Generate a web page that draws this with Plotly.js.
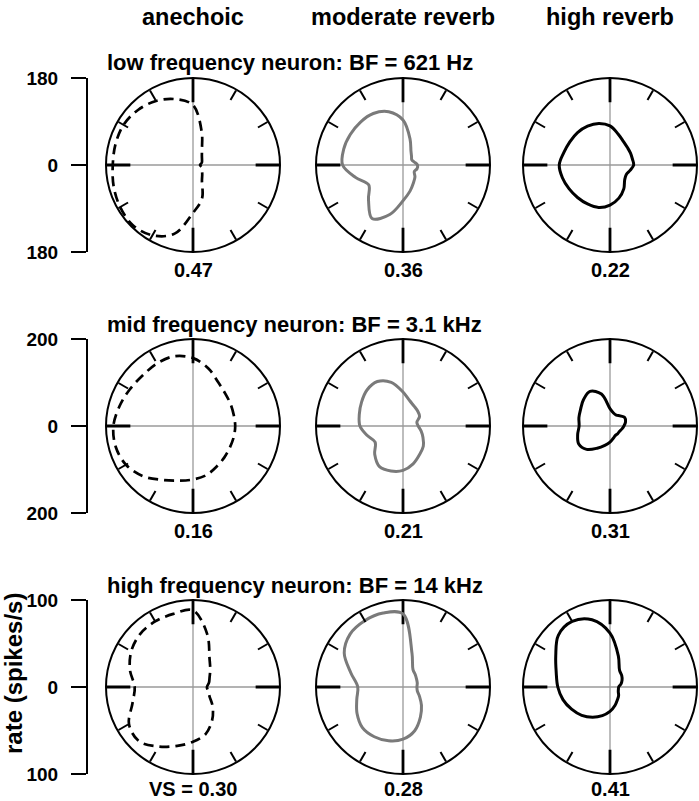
<!DOCTYPE html>
<html>
<head>
<meta charset="utf-8">
<script src="https://cdn.plot.ly/plotly-3.0.1.min.js"></script>
<style>html,body{margin:0;padding:0;background:#fff;}#chart{width:699px;height:801px;}</style>
</head>
<body>
<div id="chart"></div>
<script>
// ---------------- data ----------------
var columns = ["anechoic", "moderate reverb", "high reverb"];
var rowTitles = ["low frequency neuron: BF = 621 Hz", "mid frequency neuron: BF = 3.1 kHz", "high frequency neuron: BF = 14 kHz"];
var rowMax = [180, 200, 100];
var tickLabels = [["180", "0", "180"], ["200", "0", "200"], ["100", "0", "100"]];
var vsLabels = [["0.47", "0.36", "0.22"], ["0.16", "0.21", "0.31"], ["VS = 0.30", "0.28", "0.41"]];
var yTitle = "rate (spikes/s)";

var theta = [0, 15, 30, 45, 60, 75, 90, 105, 120, 135, 150, 165, 180, 195, 210, 225, 240, 255, 270, 285, 300, 315, 330, 345];

// row 1 : low frequency neuron (spikes/s)
var low_anechoic = [14.5, 19, 21.5, 26, 37, 70, 124, 141, 153, 161, 166, 166, 166, 170, 174, 176, 168, 147, 99, 72, 37, 27, 21.5, 19];
var low_moderate = [30, 24, 21, 25, 33, 56, 93, 114, 123, 125, 126, 127, 125, 101, 82, 101, 128, 106, 74, 56, 43, 35, 27, 30];
var low_high     = [49, 48, 49, 51, 56, 66, 81, 89, 93, 95, 96, 99, 105, 102, 98, 95, 93, 91, 83, 71, 57, 43, 39, 43];
// row 2 : mid frequency neuron
var mid_anechoic = [97, 97, 100, 105, 116, 137, 156, 166, 166, 164, 168, 175, 183, 184, 178, 163, 143, 130, 123, 117, 108, 102, 98, 97];
var mid_moderate = [35, 33, 44, 48, 52, 60, 78, 104, 118, 117, 110, 104, 99, 85, 74, 92, 108, 107, 102, 90, 76, 66, 53, 43];
var mid_high     = [32, 37, 39, 33, 29, 31, 40, 76, 92, 86, 78, 74, 71, 77, 83, 76, 59, 46, 37, 29, 25, 25, 25, 28];
// row 3 : high frequency neuron
var high_anechoic = [16, 19, 22, 28, 38, 63, 88, 87, 87, 86, 82, 75, 67, 72, 85, 88, 79, 70, 63, 56, 44, 32, 22, 18];
var high_moderate = [16, 17, 18, 20, 23, 40, 84, 88, 88, 86, 78, 62, 52, 55, 61, 66, 66, 64, 60, 52, 40, 30, 22, 17];
var high_high     = [10, 13, 16, 19, 22, 37, 62, 80, 87, 84, 72, 64, 60, 56, 51, 46, 40, 34, 28, 22, 17, 14, 11, 10];

var series = [
  [low_anechoic, low_moderate, low_high],
  [mid_anechoic, mid_moderate, mid_high],
  [high_anechoic, high_moderate, high_high]
];

// ---------------- styling / layout ----------------
var W = 699, H = 801;
var colCx = [193, 403, 610];
var rowCy = [165, 426, 687];
var rad = 87;
var styles = [
  {color: "#000000", width: 2.7, dash: "10px,6px"},
  {color: "#7a7a7a", width: 3, dash: "solid"},
  {color: "#000000", width: 3, dash: "solid"}
];
var FONT = "Liberation Sans, Arial, Helvetica, sans-serif";
function px(x) { return x / W; }
function py(y) { return 1 - y / H; }

function closeLoop(a) { return a.concat([a[0]]); }
var thetaClosed = theta.concat([360]);

var traces = [];
var layout = {
  width: W, height: H,
  margin: {l: 0, r: 0, t: 0, b: 0},
  paper_bgcolor: "#ffffff",
  plot_bgcolor: "#ffffff",
  showlegend: false,
  annotations: []
};

var k = 0;
for (var i = 0; i < 3; i++) {
  var R = rowMax[i];
  for (var j = 0; j < 3; j++) {
    k++;
    var pid = k === 1 ? "polar" : "polar" + k;
    layout[pid] = {
      domain: {x: [px(colCx[j] - rad), px(colCx[j] + rad)], y: [py(rowCy[i] + rad), py(rowCy[i] - rad)]},
      bgcolor: "rgba(0,0,0,0)",
      radialaxis: {range: [0, R], visible: false, showgrid: false},
      angularaxis: {
        rotation: 0, direction: "counterclockwise",
        showline: true, linecolor: "#000", linewidth: 2,
        ticks: "inside", ticklen: 11, tickwidth: 2, tickcolor: "#000",
        tickmode: "linear", tick0: 0, dtick: 30,
        showgrid: false, showticklabels: false
      }
    };
    // crosshair
    traces.push({
      type: "scatterpolar", subplot: pid, mode: "lines", hoverinfo: "skip",
      r: [R, R, null, R, R], theta: [0, 180, null, 90, 270],
      line: {color: "#9a9a9a", width: 1.3}
    });
    // long cardinal ticks
    traces.push({
      type: "scatterpolar", subplot: pid, mode: "lines", hoverinfo: "skip",
      r: [0.72 * R, R, null, 0.72 * R, R, null, 0.72 * R, R, null, 0.72 * R, R],
      theta: [0, 0, null, 90, 90, null, 180, 180, null, 270, 270],
      line: {color: "#000", width: 2.8}
    });
    // rate curve
    traces.push({
      type: "scatterpolar", subplot: pid, mode: "lines",
      r: closeLoop(series[i][j]), theta: thetaClosed,
      line: {color: styles[j].color, width: styles[j].width, dash: styles[j].dash, shape: "spline", smoothing: 1}
    });
    // VS label
    var vsAnn = {
      xref: "paper", yref: "paper", x: px(colCx[j]), y: py(rowCy[i] + 105),
      xanchor: "center", yanchor: "middle", showarrow: false, borderpad: 0,
      text: vsLabels[i][j], font: {family: FONT, size: 20, color: "#000", weight: "bold"}
    };
    if (i === 2) { vsAnn.y = 0; vsAnn.yanchor = "bottom"; }
    layout.annotations.push(vsAnn);
  }
  // scale bracket (cartesian y axis)
  var xa = i === 0 ? "xaxis" : "xaxis" + (i + 1);
  var ya = i === 0 ? "yaxis" : "yaxis" + (i + 1);
  var xs = i === 0 ? "x" : "x" + (i + 1);
  var ys = i === 0 ? "y" : "y" + (i + 1);
  layout[xa] = {domain: [px(88), px(100)], range: [0, 1], visible: false, anchor: ys, fixedrange: true};
  layout[ya] = {
    domain: [py(rowCy[i] + rad), py(rowCy[i] - rad)], range: [-R, R], anchor: xs,
    showline: true, linecolor: "#000", linewidth: 2,
    ticks: "outside", ticklen: 15, tickwidth: 2, tickcolor: "#000",
    tickmode: "array", tickvals: [R, 0, -R], ticktext: tickLabels[i],
    showgrid: false, zeroline: false, fixedrange: true,
    ticklabelstandoff: 9,
    tickfont: {family: FONT, size: 19, color: "#000", weight: "bold"}
  };
  traces.push({type: "scatter", x: [0.5], y: [0], xaxis: xs, yaxis: ys, mode: "markers", marker: {opacity: 0}, hoverinfo: "skip"});
  // row title
  layout.annotations.push({
    xref: "paper", yref: "paper", x: px(105), y: py(rowCy[i] - 102),
    xanchor: "left", yanchor: "middle", showarrow: false,
    text: rowTitles[i], font: {family: FONT, size: 22, color: "#000", weight: "bold"}
  });
}
// column titles
for (var c = 0; c < 3; c++) {
  layout.annotations.push({
    xref: "paper", yref: "paper", x: px(colCx[c]), y: py(17),
    xanchor: "center", yanchor: "middle", showarrow: false,
    text: columns[c], font: {family: FONT, size: 23.5, color: "#000", weight: "bold"}
  });
}
// y title
layout.annotations.push({
  xref: "paper", yref: "paper", x: px(13), y: py(674),
  xanchor: "center", yanchor: "middle", showarrow: false, textangle: -90,
  text: yTitle, font: {family: FONT, size: 24, color: "#000", weight: "bold"}
});

Plotly.newPlot("chart", traces, layout, {staticPlot: true, displayModeBar: false});
</script>
</body>
</html>
